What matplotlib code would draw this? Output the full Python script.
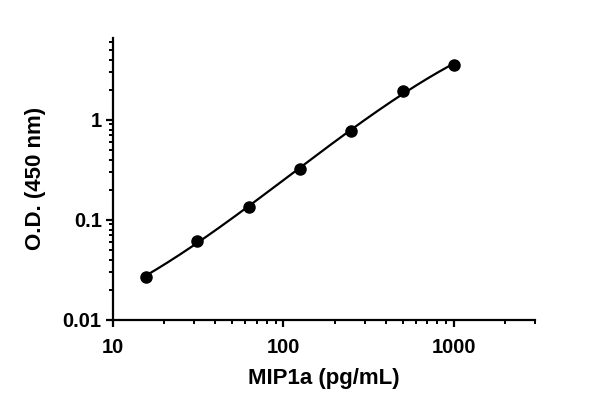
import numpy as np
import matplotlib
matplotlib.use('Agg')
import matplotlib.pyplot as plt
from matplotlib.ticker import LogLocator, NullFormatter, FixedLocator, FixedFormatter

plt.rcParams['font.family'] = ['Liberation Sans', 'DejaVu Sans']
plt.rcParams['font.weight'] = 'bold'

# standard curve points
conc = [15.6, 31.25, 62.5, 125, 250, 500, 1000]
od = [0.027, 0.062, 0.136, 0.32, 0.77, 1.95, 3.55]

xticks = [10, 100, 1000]
xticklabels = ['10', '100', '1000']
yticks = [0.01, 0.1, 1]
yticklabels = ['0.01', '0.1', '1']

# smooth fit line in log-log space
lx = np.log10(conc)
ly = np.log10(od)
coef = np.polyfit(lx, ly, 3)
xfit = np.logspace(lx[0], lx[-1], 200)
yfit = 10 ** np.polyval(coef, np.log10(xfit))

fig = plt.figure(figsize=(6, 4.07), dpi=100)
ax = fig.add_axes([0.188, 0.214, 0.704, 0.693])

ax.plot(xfit, yfit, color='black', lw=1.6, zorder=2)
ax.plot(conc, od, 'o', color='black', ms=8, zorder=3)

ax.set_xscale('log')
ax.set_yscale('log')
ax.set_xlim(10, 3000)
ax.set_ylim(0.01, 6.6)

ax.xaxis.set_major_locator(FixedLocator(xticks))
ax.xaxis.set_major_formatter(FixedFormatter(xticklabels))
ax.yaxis.set_major_locator(FixedLocator(yticks))
ax.yaxis.set_major_formatter(FixedFormatter(yticklabels))
ax.xaxis.set_minor_locator(LogLocator(base=10, subs=np.arange(2, 10), numticks=20))
ax.yaxis.set_minor_locator(LogLocator(base=10, subs=np.arange(2, 10), numticks=20))
ax.xaxis.set_minor_formatter(NullFormatter())
ax.yaxis.set_minor_formatter(NullFormatter())

for s in ['top', 'right']:
    ax.spines[s].set_visible(False)
for s in ['left', 'bottom']:
    ax.spines[s].set_linewidth(1.6)

ax.tick_params(which='major', direction='out', length=5, width=1.6, labelsize=14.5)
ax.tick_params(axis='x', which='major', pad=8)
ax.tick_params(axis='y', which='major', pad=3)
ax.tick_params(which='minor', direction='out', length=3, width=1.4)

ax.set_xlabel('MIP1a (pg/mL)', fontsize=16, fontweight='bold', labelpad=8)
ax.set_ylabel('O.D. (450 nm)', fontsize=16, fontweight='bold', labelpad=12)

fig.savefig('out.png', dpi=100)
